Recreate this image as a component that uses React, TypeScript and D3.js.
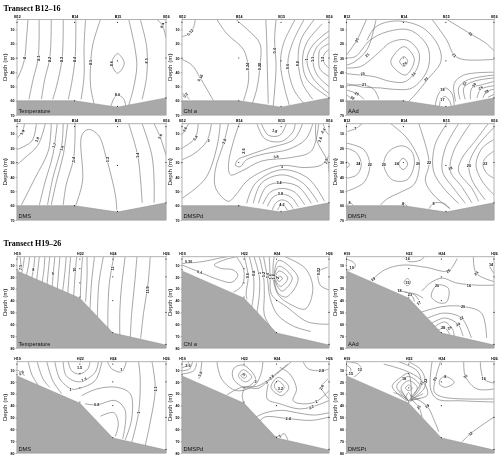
import React, { useEffect, useRef } from "react";
import * as d3 from "d3";

type Pt = [number, number];
type Lab = [string, number, number, number];

// x is percent of the transect length, y is depth in m
const stationsB: [string, number][] = [["B12", 0], ["B14", 38.6], ["B15", 67.4], ["B16", 100]];
const stationsH: [string, number][] = [["H19", 0], ["H22", 42.2], ["H24", 64.3], ["H26", 100]];
const seabedB: Pt[] = [[0, 60], [38.6, 60], [67.4, 64.5], [100, 58]];
const seabedH: Pt[] = [[0, 15], [42.2, 38], [64.3, 67.3], [100, 77.5]];
const samplesB: Pt[] = [[0, 5], [0, 30], [38.6, 5], [38.6, 30], [38.6, 60], [67.4, 5], [67.4, 32], [67.4, 64], [100, 5], [100, 30], [100, 58]];
const samplesH: Pt[] = [[0, 5], [0, 14], [42.2, 5], [42.2, 13], [42.2, 25], [42.2, 37], [64.3, 5], [64.3, 20], [64.3, 40], [64.3, 67], [100, 5], [100, 20], [100, 50], [100, 77]];
const depthTicksB = [10, 20, 30, 40, 50, 60, 70];
const depthTicksH = [10, 20, 30, 40, 50, 60, 70, 80];

const tempB: Pt[][] = [
  [[7.4, 3], [6.3, 17], [5.2, 30], [3, 38], [0, 45]],
  [[14.8, 3], [14.2, 30], [10.8, 45], [8, 59]],
  [[23, 3], [22, 30], [18.6, 45], [16.4, 59]],
  [[31, 3], [30.3, 30], [26.5, 50], [24, 59]],
  [[39.5, 3], [39, 30], [36.6, 48], [34.4, 59]],
  [[46, 3], [45, 22], [45, 43], [43, 59]],
  [[56, 3], [51, 20], [49.4, 34], [49.4, 50], [51.7, 62]],
  [[63, 64], [65, 58.5], [67.4, 56], [71.5, 58.5], [73, 64]],
  [[75, 3], [79.3, 24], [80.4, 36], [78, 52], [75, 63]],
  [[82.7, 3], [87, 22], [87, 43], [84, 59]],
  [[94, 3], [97.5, 7], [100, 16]],
];
const tempBRings: Pt[][] = [[[67.4, 27], [72, 33.7], [67.4, 40.7], [63.6, 33.7]]];
const tempBLabels: Lab[] = [
  ["8", 5.2, 30, -90], ["8.1", 14.2, 30, -90], ["8.2", 22, 31, -90], ["8.3", 30.3, 31, -90], ["8.4", 39, 31, -90],
  ["8.5", 49.4, 33, -90], ["8.6", 63.6, 34, -90], ["8.6", 67.4, 56, 0], ["8.5", 87, 32, -90], ["8.4", 97.5, 7, -70],
];

const chlB: Pt[][] = [
  [[9, 3], [8, 8], [5, 13], [0, 15]],
  [[0, 31], [6.8, 35], [12.4, 44], [17, 52], [21.4, 60]],
  [[0, 55], [2.3, 56], [5, 59]],
  [[23.7, 3], [30.5, 13], [41.8, 24], [45, 36], [45, 48], [41.8, 60]],
  [[36.6, 3], [45, 10.5], [53, 20], [53, 36], [50.8, 52], [48, 61.5]],
  [[57, 3], [57.6, 17], [58, 36], [58.7, 62]],
  [[64, 3], [63, 17], [64, 36], [62, 64]],
  [[77, 3], [69, 20], [67, 34], [70, 52], [73, 63]],
  [[83, 3], [75, 20], [72, 34], [76, 52], [83, 62]],
  [[90, 3], [81, 17], [79, 32], [82, 48], [89, 59]],
  [[95.5, 6], [85, 19], [82, 31], [85, 45], [99, 57]],
  [[100, 11], [89, 21], [85, 31], [89, 44], [100, 55]],
  [[100, 15], [92, 22], [89, 31], [92, 42], [100, 50]],
  [[100, 20], [94, 24], [93, 31], [94, 38], [100, 43]],
  [[100, 24], [97, 27], [96, 30], [97, 34], [100, 37]],
];
const chlBLabels: Lab[] = [
  ["0.12", 5.5, 12, -50], ["0.16", 12.4, 44, -60], ["0.2", 2.5, 56, -50], ["0.24", 45, 36, -90], ["0.28", 53, 36, -90],
  ["0.4", 63, 25, -90], ["0.6", 72, 36, -90], ["0.8", 79, 34, -90], ["1", 85, 31, -90], ["1.1", 89, 31, -90], ["1.3", 96, 31, -90],
];

const aadB: Pt[][] = [
  [[0, 37], [9.5, 36], [21, 27], [30, 19], [41, 17.5], [49, 26], [48, 37], [40, 46.5], [30, 46.5], [18.5, 43], [9.5, 42], [0, 41]],
  [[0, 30], [6, 29], [16, 17.5], [27.5, 11.6], [43, 10.5], [55, 22], [55, 38], [44.5, 51], [32, 52], [23, 51], [12, 50.5], [0, 48]],
  [[13.5, 3], [7, 17.5], [0, 28]],
  [[20, 3], [14, 24], [5, 33], [0, 35]],
  [[14, 17.5], [20, 8], [34, 4], [52, 9], [62.5, 22], [64, 32.5], [55, 45], [45.5, 57], [42, 60.5]],
  [[58, 3], [68, 17.5], [73, 28], [79, 31], [100, 31]],
  [[68, 3], [84, 13], [95, 20], [100, 25]],
  [[74, 60.5], [73, 48], [79.5, 42], [100, 40]],
  [[77, 59], [76, 51], [82, 45.5], [100, 42]],
  [[80.5, 59], [79.5, 51], [86, 46.5], [100, 44]],
  [[84, 59], [85, 51], [91, 49], [100, 46.5]],
  [[88.5, 58], [91, 52], [100, 49.5]],
  [[92.5, 58], [95, 53.5], [100, 52]],
  [[96, 57.5], [100, 55.5]],
  [[60, 64], [62.5, 55], [67, 51], [71.5, 55], [73, 63]],
  [[63, 64], [64, 59], [67, 57], [70, 60.5], [71, 64]],
  [[0, 56], [3, 58], [5.5, 60]],
  [[0, 52.5], [7, 55], [12, 59]],
  [[0, 49.5], [12, 49], [18.5, 52], [22, 59]],
];
const aadBRings: Pt[][] = [
  [[39, 29], [41.5, 32.5], [39, 36], [36, 32.5]],
  [[39, 22], [46, 31], [40, 42], [30, 33]],
];
const aadBLabels: Lab[] = [
  ["20", 7, 17.5, -60], ["21", 14, 28, -50], ["23", 11, 41, -15], ["21", 12, 49, 0], ["20", 7, 55, 30], ["22", 4, 58, 30],
  ["26", 39.5, 34, -30], ["24", 45.5, 41.5, -45], ["23", 54, 45, -45], ["21", 73, 28, 40], ["19", 84, 13, 40],
  ["18", 65, 52, 0], ["17", 65, 59, 0], ["22", 80, 48, -70], ["24", 86.5, 49, -60], ["26", 91, 51, -30], ["28", 95, 53.5, -30],
];

const dmsB: Pt[][] = [
  [[5, 3], [3.5, 9], [0, 13]],
  [[13, 3], [10, 15], [0, 21]],
  [[19, 3], [14, 18], [5, 27], [0, 31.6]],
  [[23, 3], [21, 22], [12, 41], [3, 59.5]],
  [[27, 3], [24, 25], [19, 43], [15, 59.5]],
  [[31, 3], [30, 18], [24, 41], [20.5, 59.5]],
  [[34, 3], [31, 25], [26.5, 43], [23, 59.5]],
  [[39, 3], [38, 27], [33, 45.6], [31, 59.5]],
  [[39.5, 59.5], [44, 43], [43.5, 11], [48, 7], [54.6, 11], [60, 27], [66, 52.5], [67, 63]],
  [[75, 3], [81, 25], [83, 43], [84, 58]],
  [[84, 3], [90.5, 25], [92, 43], [92, 58]],
  [[92, 3], [96, 12], [100, 25]],
];
const dmsBLabels: Lab[] = [
  ["1.9", 3.5, 9, -60], ["1.8", 13.5, 14, -60], ["1.7", 25, 18, -70], ["1.6", 30, 20, -75], ["1.4", 38, 28, -90],
  ["1.3", 61, 28, -90], ["1.4", 81, 25, -90], ["1.6", 96, 12, -60],
];

const dmspdB: Pt[][] = [
  [[4.5, 3], [0.5, 10]],
  [[11, 3], [9, 13], [0, 20]],
  [[20, 3], [17, 15], [8, 24], [0, 28]],
  [[26, 3], [24, 18], [16, 41], [0, 55]],
  [[31.6, 3], [28.7, 15.3], [22.5, 36], [23, 48], [31.6, 57], [37, 52], [44, 43], [55, 36], [68, 32], [83.5, 33.5], [95, 31.6], [100, 25]],
  [[39, 3], [35, 15.3], [31.6, 31.6], [33, 38.6], [40.5, 36], [54, 29], [74.5, 26.5], [88, 22], [93, 3]],
  [[82, 3], [76, 14], [59, 20], [45, 25], [38, 28], [36.5, 32], [39.5, 33], [44, 28], [56, 24], [72, 21], [84, 14], [89, 3]],
  [[54, 3], [58.7, 11], [66.6, 11], [71, 3]],
  [[51, 3], [56.4, 13.5], [67.7, 15.3], [75.6, 8.4], [77, 3]],
  [[96, 3], [98, 8.4], [100, 11]],
  [[91, 3], [91.4, 14], [99, 29], [100, 37]],
  [[65, 63], [68, 59], [71.6, 63]],
  [[61.4, 63], [64, 58], [68, 56], [72.7, 58], [75.6, 62]],
  [[58, 60.7], [62, 54], [68, 52], [74.5, 54.4], [79, 60.7]],
  [[55, 59], [60, 50.7], [68, 48], [76.7, 50.7], [83.5, 59.5]],
  [[52, 58.4], [57.5, 46.7], [67.7, 44], [79, 46.7], [88, 58.4]],
  [[48.5, 58.4], [54, 44.4], [68, 38.6], [82.4, 44.4], [92.5, 57.7]],
  [[44, 58.4], [50, 44.4], [67.7, 35], [85.8, 41], [97, 57]],
];
const dmspdBLabels: Lab[] = [
  ["3.6", 2, 7, -60], ["3.4", 9, 13, -60], ["3", 18, 15, 0], ["2.8", 28.7, 15.3, -70], ["2.6", 42, 22, -90],
  ["3.8", 64, 26, -10], ["3", 68, 33, 0], ["3.4", 66, 44, 0], ["3.8", 67, 52, 0], ["4.2", 68, 59, 0],
  ["1.8", 63, 8, 20], ["2.6", 94, 14, -70], ["2.8", 98, 29, -70], ["2.4", 96, 8, -50],
];

const dmsptB: Pt[][] = [
  [[10.6, 3], [6, 6.5], [0.5, 8.4]],
  [[0, 20], [7, 23.5], [10, 31.6], [7, 38.6], [0, 41]],
  [[0, 29], [2, 31.6], [0, 34]],
  [[0, 16.5], [11.7, 21], [15.8, 31.6], [11.7, 44], [0, 50]],
  [[30, 3], [41, 13], [48, 25], [49.5, 31], [46, 45], [38, 50], [28, 55], [23, 59.5]],
  [[49, 3], [56, 30], [53.5, 43], [59, 52.5], [70, 62]],
  [[68, 3], [60, 17.7], [59, 36], [66, 48], [76, 58.4]],
  [[76, 3], [67, 20], [65, 36], [72.7, 48], [80.6, 58.4]],
  [[84, 3], [72.7, 22], [70.4, 36], [78, 46.7], [85, 58]],
  [[96, 3], [87, 15.3], [78.3, 27], [76, 36], [85, 48], [89.6, 57]],
  [[100, 5.6], [88.5, 19], [83, 31.6], [85, 42], [94, 56]],
  [[100, 14], [92, 20], [87.8, 31.6], [92, 43], [100, 52.5]],
  [[100, 22], [94, 27], [92.5, 31.6], [95, 37.4], [100, 41]],
  [[56, 62], [59, 58.4], [66, 58.4], [70, 62]],
  [[37, 59.5], [39, 58.4], [41.5, 60.7]],
  [[0.5, 59.5], [2.7, 58], [4.5, 60]],
];
const dmsptBRings: Pt[][] = [
  [[38.4, 27], [41.5, 31], [38.4, 35], [35.5, 31]],
  [[37.7, 18.4], [44, 22], [46, 31], [41, 42], [31, 42], [25.3, 31.6], [28.7, 22.3]],
];
const dmsptBLabels: Lab[] = [
  ["7", 6, 6.5, 0], ["24", 8, 31, 0], ["22", 15.8, 31.6, 0], ["20", 25.3, 31.6, 0], ["24", 34, 31, 0], ["20", 48.5, 31, 0],
  ["22", 56, 30, 0], ["18", 70.4, 34, -20], ["20", 83, 32, 0], ["22", 94, 31, 0], ["8", 59, 58.4, 0], ["8", 38.4, 58.4, 0], ["8", 2, 58, 0],
];

const tempH: Pt[][] = [
  [[2, 3], [2.5, 9], [1, 15]],
  [[5, 3], [4, 12], [3, 17]],
  [[8.5, 3], [7.5, 12], [6, 20]],
  [[12, 3], [11, 14], [9.5, 23]],
  [[15, 3], [14, 14], [13, 25]],
  [[18.7, 3], [18, 15], [16.5, 27]],
  [[22, 3], [21, 15], [20, 29]],
  [[25.4, 3], [24.5, 15], [23.5, 30]],
  [[28.8, 3], [28, 15], [27, 31]],
  [[33, 3], [32, 18], [30.5, 33]],
  [[36, 3], [35, 18], [34, 35]],
  [[40, 3], [39, 18], [38, 37]],
  [[44, 3], [43, 20], [42.5, 38]],
  [[47, 3], [47, 20], [46, 41]],
  [[52, 3], [50, 25], [49, 47]],
  [[58, 3], [55, 25], [54, 50], [54, 56]],
  [[65, 3], [62, 25], [61, 50], [61, 66]],
  [[72.6, 3], [70, 30], [69, 50], [69, 70]],
  [[80.5, 3], [79, 25], [77, 50], [76, 72]],
  [[89.4, 3], [88, 25], [85, 50], [83, 72]],
];
const tempHLabels: Lab[] = [["7.5", 2.5, 12, -90], ["8", 11, 14, 0], ["9", 24, 17, 0], ["10", 39, 14, -90], ["11", 64, 13, -90], ["11.9", 88, 31, -90]];

const chlH: Pt[][] = [
  [[0, 8.7], [13, 7.3], [26.4, 4], [31, 3]],
  [[0, 10], [12, 16], [24, 22], [34, 24.5], [38, 18.4], [34.5, 14], [27, 13], [22, 10], [28, 6], [37, 3]],
  [[37, 3], [42, 14], [41, 27], [35, 33]],
  [[42.4, 3], [45, 20], [43.6, 33.8], [44.2, 39]],
  [[45.8, 3], [48.7, 20], [48.7, 34], [47.4, 46]],
  [[49, 3], [52.6, 20], [52.6, 35], [50.3, 55]],
  [[52.6, 3], [55.5, 20], [56, 35], [56, 52], [60.5, 63]],
  [[55.5, 3], [58, 20], [60, 38], [65, 52], [76, 61.7], [87.6, 66]],
  [[59.4, 3], [60, 20], [61, 35], [72, 46], [85.5, 58], [100, 60]],
  [[70, 3], [84, 13], [89, 30], [84, 47], [75, 44], [66, 36], [62.5, 25], [62, 10], [62.8, 3]],
  [[99, 12], [93, 15.6], [94, 27], [100, 31]],
];
const chlHRings: Pt[][] = [
  [[66, 19.5], [68.4, 21], [66, 24], [64.5, 21]],
  [[66, 15], [72, 21], [67, 28], [63.5, 21]],
  [[66, 11], [75, 21], [68, 32], [63, 21]],
  [[66, 6], [79, 21], [71, 37], [65, 33], [63, 15]],
];
const chlHLabels: Lab[] = [
  ["0.36", 4.5, 7.5, 0], ["0.4", 12, 16, 15], ["0.6", 45, 19, -90], ["0.8", 49, 17, -90], ["1", 53, 17, -90],
  ["1.2", 55.5, 18, -90], ["1.4", 58, 19, -90], ["1.6", 60, 20, -90], ["1.8", 62.5, 20, -90], ["2", 65, 21, -90], ["0.32", 93, 15.6, -90],
];

const aadH: Pt[][] = [
  [[0, 5], [5, 8], [6, 11], [3, 14], [0, 14]],
  [[39.5, 4], [42, 7], [50, 6], [53, 3]],
  [[16, 24], [26, 14], [38.4, 10], [54, 12], [69, 15], [75, 4.5]],
  [[51, 32], [57, 25], [65, 21], [74, 25], [88, 27], [100, 27]],
  [[86, 3], [88, 17], [100, 24]],
  [[99.5, 8.7], [97, 10], [100, 17]],
  [[36, 32], [47, 34.6], [52, 38]],
  [[39.5, 33], [46, 35], [49, 39.4]],
  [[41.8, 34.6], [45, 37], [46, 40.8]],
  [[50, 50], [65.5, 45], [79, 45], [91.5, 50.5], [95, 71.5]],
  [[53, 56], [65.5, 50.6], [78, 54.7], [84.6, 71.5]],
  [[56.5, 60], [66.6, 54.7], [75.6, 60], [79, 70]],
  [[58.7, 63], [66.6, 58], [72, 64.5], [73, 70]],
  [[61, 66], [66.6, 63], [70, 68.7]],
];
const aadHRings: Pt[][] = [
  [[41.3, 21.5], [43.5, 24.6], [41.3, 27.4], [39, 24.6]],
  [[61.4, 27], [69, 29.6], [68, 41], [63, 42], [57.5, 36.6]],
];
const aadHLabels: Lab[] = [
  ["19", 3.5, 12, 0], ["19", 18, 22, -40], ["16", 41.5, 5, 0], ["15", 41.3, 24.6, 0], ["26", 69, 15, -40], ["18", 36, 32, 0],
  ["20", 61.4, 27, 0], ["16", 83, 27, 0], ["24", 88, 17, -45], ["14", 98, 9.5, 0], ["23", 43, 35, 0], ["17", 49, 42, -40],
  ["20", 79, 45, 0], ["22", 78, 54.7, -30], ["24", 75.6, 60, -30], ["26", 70, 63, -30], ["28", 65.5, 63, 0],
];

const dmsH: Pt[][] = [
  [[0, 10], [3, 12], [5, 15]],
  [[7.5, 3], [10, 14], [14, 22.5]],
  [[13.5, 3], [17.5, 17.6], [22, 24.6]],
  [[20, 3], [24, 19], [30, 30]],
  [[34.4, 3], [36.6, 10.6], [42, 13.4], [47.6, 9], [49, 3]],
  [[31, 3], [33, 14.8], [42, 20], [52.4, 12], [54.6, 3]],
  [[25.4, 3], [28.8, 17.6], [36.6, 26], [42, 25.4], [52.4, 19], [57, 3]],
  [[43.4, 31.6], [53.5, 26], [67, 24.6], [76, 30], [77, 51], [72.6, 69]],
  [[45.6, 38.5], [53.5, 39.4], [66, 35.8], [72.6, 44], [71, 68]],
  [[56, 49], [65, 46], [68, 55], [66, 66]],
  [[81.6, 3], [82.7, 17.6], [81.6, 46], [77, 71]],
  [[90.6, 3], [92.8, 26], [89.4, 54], [86, 74]],
  [[60.7, 3], [63.6, 9], [70.3, 11.5], [73.3, 3]],
];
const dmsHLabels: Lab[] = [
  ["2.5", 3, 12.5, -30], ["1.5", 42, 8, 0], ["1.3", 45, 18, -20], ["1", 36, 26.5, 0], ["0.8", 53.5, 39.4, 0], ["1", 81.6, 46, -90], ["1.1", 93, 26, -90], ["1", 70, 10, 0],
];

const dmspdH: Pt[][] = [
  [[0, 8], [3.4, 6.4], [4.5, 3]],
  [[0, 10.6], [5, 9.2], [7.2, 3]],
  [[0, 13.4], [8, 10.6], [10, 4]],
  [[13.5, 3], [12.4, 13.4], [11.3, 17.6]],
  [[23.7, 3], [27, 17.6], [37, 27.4], [49.6, 22.6], [54, 12], [55, 3]],
  [[30.5, 31], [40.6, 24.6], [50.8, 23.8], [56.4, 20.4], [61, 16], [72, 5]],
  [[42.4, 39.4], [41, 31.6], [43, 25.4], [52, 25.4], [57.6, 20.4], [63, 14.8], [74.5, 3]],
  [[58.7, 21.8], [58, 34.4], [66.6, 38.5], [79, 42.7], [88, 41.3], [100, 35.8]],
  [[66.6, 7.8], [73.4, 13.4], [77.9, 26], [75.6, 35.8], [81.3, 38.5], [91.4, 36.6], [100, 27.4]],
  [[82.4, 3], [85.8, 9], [94.8, 10.6], [100, 9.2]],
  [[99.3, 17.6], [94.8, 24.6], [100, 34.4]],
  [[51.5, 55], [56.4, 49.7], [72.2, 51], [88, 52.5], [100, 49.7]],
  [[49.7, 50], [57, 46], [68, 44], [78, 46], [90, 48], [100, 46]],
  [[63.2, 66.5], [66.6, 65.6], [69.5, 63.7], [72, 69]],
];
const dmspdHRings: Pt[][] = [
  [[42.4, 13], [44, 15.4], [42.4, 17], [40, 14.8]],
  [[41.7, 9.8], [47.4, 16.2], [43, 20], [38.4, 14.8]],
  [[41.7, 5.9], [50, 17.6], [43, 24.6], [35, 17.6], [35, 9]],
  [[65, 19], [69.5, 24.6], [66.6, 28.8], [62.8, 23.8]],
  [[65.5, 16.2], [72.7, 24.6], [67.7, 31.6], [60.5, 24.6]],
];
const dmspdHLabels: Lab[] = [
  ["2.6", 4, 6, 0], ["3.6", 12.4, 13.4, -70], ["3", 42, 14, -40], ["3", 50, 20, 0], ["2.8", 61, 16, -45], ["3", 57.6, 20.4, -45],
  ["3.2", 67, 26, 0], ["2.8", 94.8, 10.6, 0], ["2.6", 95, 24.6, -60], ["2", 91.4, 36.6, -30], ["2.2", 88, 41.3, -30], ["2.4", 72.2, 51, 0], ["2", 66.6, 65.6, -45],
];

const dmsptH: Pt[][] = [
  [[0, 5.9], [3, 9.2], [1.6, 13.4], [0, 14.2]],
  [[0, 3], [8, 5], [10, 10], [5, 16]],
  [[25.3, 5], [40, 10.6], [50, 17.6], [54.6, 26], [54.6, 31.6], [44, 35]],
  [[42, 3], [50, 9.2], [53.5, 19], [52.4, 26], [44.5, 34.4]],
  [[35.4, 3], [47.8, 10.6], [50.5, 19], [49, 24.6], [43.4, 33]],
  [[42.2, 36], [37, 25], [42.2, 19], [48, 25], [42.2, 36]],
  [[42, 36], [34, 24], [42, 15.5], [50, 24], [42.5, 36]],
  [[41, 36], [31, 24], [37, 16], [42, 13], [44, 36]],
  [[40, 34], [42, 29], [44.5, 34]],
  [[32, 29], [38, 32], [42, 36]],
  [[36, 27], [39, 31], [42, 36]],
  [[52, 30], [47, 33], [43, 36]],
  [[50, 34], [46, 35], [43, 36.5]],
  [[43.4, 34.4], [49, 41.3], [51.2, 50]],
  [[43.4, 31.6], [54.6, 40.5], [59, 51], [62.5, 62]],
  [[58, 3], [57, 26], [61.4, 34.4], [78, 36], [100, 37]],
  [[63.7, 3], [60.3, 17.6], [59.6, 28.8], [66, 33], [100, 34.4]],
  [[79.5, 3], [80.6, 15.4], [88.5, 26], [100, 26]],
  [[90.7, 3], [93, 17.6], [100, 21]],
  [[78.3, 70.7], [84, 63.7], [100, 49.7]],
];
const dmsptHRings: Pt[][] = [
  [[42.2, 22.6], [44.5, 25.4], [42.2, 27.4], [40, 25.4]],
  [[63.7, 17.6], [67, 15.4], [73, 20.4], [67, 24.6], [63, 21.8]],
];
const dmsptHLabels: Lab[] = [
  ["13", 9, 9.5, 0], ["15", 3, 13, 0], ["18", 39, 17, 0], ["21", 51, 21, -60], ["22", 53.5, 19, -90], ["20", 60, 17.6, -60],
  ["8", 67, 15.4, 0], ["14", 80.6, 15.4, -40], ["16", 93, 17.6, 0], ["19", 54.6, 40.5, -40], ["21", 49, 41.3, -50], ["12", 84, 63.7, -40],
];

const rowFrames = [
  { top: 19.5, bottom: 115, maxDepth: 70 },
  { top: 123.7, bottom: 220, maxDepth: 70 },
  { top: 256.7, bottom: 348, maxDepth: 80 },
  { top: 361.7, bottom: 453, maxDepth: 80 },
];
const colFrames = [
  { left: 17, right: 166 },
  { left: 182, right: 329 },
  { left: 346.5, right: 494 },
];

type PanelProps = {
  id: string;
  row: number;
  col: number;
  name: React.ReactNode;
  lines: Pt[][];
  rings?: Pt[][];
  labels: Lab[];
};

function Panel({ id, row, col, name, lines, rings = [], labels }: PanelProps) {
  const axisRef = useRef<SVGGElement>(null);
  const topRef = useRef<SVGGElement>(null);
  const { top, bottom, maxDepth } = rowFrames[row];
  const { left, right } = colFrames[col];
  const isB = row < 2;
  const stations = isB ? stationsB : stationsH;
  const seabed = isB ? seabedB : seabedH;
  const samples = isB ? samplesB : samplesH;

  const x = d3.scaleLinear().domain([0, 100]).range([left, right]);
  const y = d3.scaleLinear().domain([3, maxDepth]).range([top, bottom]);

  const open = d3
    .line<Pt>()
    .x((d) => x(d[0]))
    .y((d) => y(d[1]))
    .curve(d3.curveCatmullRom);
  const ring = d3
    .line<Pt>()
    .x((d) => x(d[0]))
    .y((d) => y(d[1]))
    .curve(d3.curveCatmullRomClosed);
  const area = d3
    .area<Pt>()
    .x((d) => x(d[0]))
    .y0(bottom)
    .y1((d) => y(d[1]));

  useEffect(() => {
    const g = d3.select(axisRef.current);
    g.selectAll("*").remove();
    g.call(
      d3
        .axisLeft(y)
        .tickValues(isB ? depthTicksB : depthTicksH)
        .tickSize(1.5)
        .tickPadding(1) as any
    );
    g.select(".domain").remove();
    g.selectAll("text").attr("font-size", 3.6).attr("font-family", "Liberation Sans").attr("font-weight", "bold");
    g.selectAll("line").attr("stroke", "#555").attr("stroke-width", 0.4);

    const t = d3.select(topRef.current);
    t.selectAll("*").remove();
    t.call(
      d3
        .axisTop(x)
        .tickValues(stations.map((s) => s[1]))
        .tickFormat((_, i) => stations[i][0])
        .tickSize(1.2)
        .tickPadding(0.8) as any
    );
    t.select(".domain").remove();
    t.selectAll("text").attr("font-size", 3.6).attr("font-family", "Liberation Sans").attr("font-weight", "bold");
    t.selectAll("line").attr("stroke", "#555").attr("stroke-width", 0.4);
  }, []);

  return (
    <g>
      <clipPath id={id}>
        <rect x={left} y={top} width={right - left} height={bottom - top} />
      </clipPath>
      <g clipPath={`url(#${id})`} fill="none" stroke="#757575" strokeWidth={0.65}>
        {lines.map((l, i) => (
          <path key={i} d={open(l) as string} />
        ))}
        {rings.map((r, i) => (
          <path key={i} d={ring(r) as string} />
        ))}
      </g>
      <path d={area(seabed) as string} fill="#a9a9a9" stroke="#8a8a8a" strokeWidth={0.5} />
      <rect x={left} y={top} width={right - left} height={bottom - top} fill="none" stroke="#aaa" strokeWidth={0.9} />
      {samples.map((s, i) => (
        <circle key={i} cx={x(s[0])} cy={y(s[1])} r={0.6} fill="#222" />
      ))}
      {labels.map(([text, lx, ld, angle], i) => (
        <text
          key={i}
          transform={`translate(${x(lx)},${y(ld)}) rotate(${angle})`}
          textAnchor="middle"
          dy="0.35em"
          fontSize={3.8}
          fontWeight="bold"
          fill="#111"
          stroke="#fff"
          strokeWidth={0.9}
          paintOrder="stroke"
        >
          {text}
        </text>
      ))}
      <g ref={axisRef} transform={`translate(${left},0)`} />
      <g ref={topRef} transform={`translate(0,${top})`} />
      <text
        transform={`translate(${left - 10},${(top + bottom) / 2}) rotate(-90)`}
        textAnchor="middle"
        fontSize={6.2}
        fill="#111"
      >
        Depth (m)
      </text>
      <text x={left + 1.5} y={bottom - 2.5} fontSize={5.7} fill="#111">
        {name}
      </text>
    </g>
  );
}

const chlName = (
  <>
    Chl <tspan fontStyle="italic">a</tspan>
  </>
);

export default function App() {
  return (
    <svg
      width={500}
      height={459}
      style={{ position: "absolute", left: 0, top: 0 }}
      fontFamily="Liberation Sans, Arial, sans-serif"
    >
      <defs>
        {/* the source is a soft downscaled scan */}
        <filter id="soft" filterUnits="userSpaceOnUse" x={0} y={0} width={500} height={459} colorInterpolationFilters="sRGB">
          <feGaussianBlur stdDeviation={0.3} />
        </filter>
      </defs>
      <rect width={500} height={459} fill="#fff" />
      <g filter="url(#soft)">
        <text x={3.5} y={10.5} fontFamily="Liberation Serif" fontWeight="bold" fontSize={8}>
          Transect B12–16
        </text>
        <text x={3.5} y={246} fontFamily="Liberation Serif" fontWeight="bold" fontSize={8}>
          Transect H19–26
        </text>
        <Panel id="p0" row={0} col={0} name="Temperature" lines={tempB} rings={tempBRings} labels={tempBLabels} />
        <Panel id="p1" row={0} col={1} name={chlName} lines={chlB} labels={chlBLabels} />
        <Panel id="p2" row={0} col={2} name="AAd" lines={aadB} rings={aadBRings} labels={aadBLabels} />
        <Panel id="p3" row={1} col={0} name="DMS" lines={dmsB} labels={dmsBLabels} />
        <Panel id="p4" row={1} col={1} name="DMSPd" lines={dmspdB} labels={dmspdBLabels} />
        <Panel id="p5" row={1} col={2} name="DMSPt" lines={dmsptB} rings={dmsptBRings} labels={dmsptBLabels} />
        <Panel id="p6" row={2} col={0} name="Temperature" lines={tempH} labels={tempHLabels} />
        <Panel id="p7" row={2} col={1} name={chlName} lines={chlH} rings={chlHRings} labels={chlHLabels} />
        <Panel id="p8" row={2} col={2} name="AAd" lines={aadH} rings={aadHRings} labels={aadHLabels} />
        <Panel id="p9" row={3} col={0} name="DMS" lines={dmsH} labels={dmsHLabels} />
        <Panel id="p10" row={3} col={1} name="DMSPd" lines={dmspdH} rings={dmspdHRings} labels={dmspdHLabels} />
        <Panel id="p11" row={3} col={2} name="DMSPt" lines={dmsptH} rings={dmsptHRings} labels={dmsptHLabels} />
      </g>
    </svg>
  );
}
